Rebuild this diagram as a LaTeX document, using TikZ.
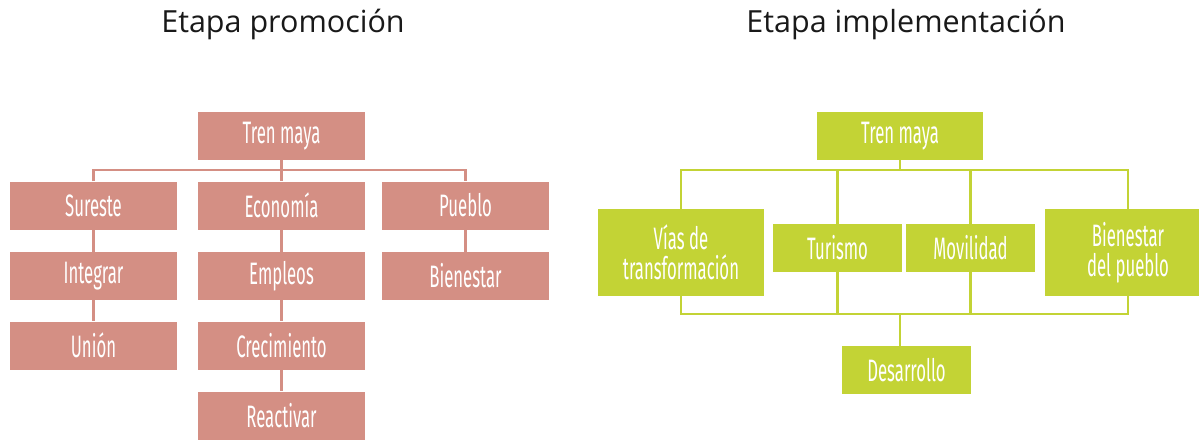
\documentclass[tikz,border=0pt]{standalone}
\usepackage{fontspec}
\setmainfont{Open Sans}
\newfontfamily\boxfont[FakeStretch=0.54]{Fira Sans}
\definecolor{salmon}{RGB}{212,143,132}
\definecolor{lime}{RGB}{195,211,53}
\tikzset{
  basebox/.style={text=white, font=\boxfont\fontsize{31}{30}\selectfont, inner sep=0pt, align=center},
  lbox/.style={basebox, fill=salmon, minimum width=167pt, minimum height=48pt},
  rbox/.style={basebox, fill=lime, minimum height=48pt},
  lline/.style={draw=salmon, line width=2.3pt},
  rline/.style={draw=lime, line width=2.3pt},
  titletext/.style={font=\fontsize{30.5}{34}\selectfont, text=black!90}
}
\begin{document}
\begin{tikzpicture}[x=1pt,y=-1pt]
\useasboundingbox (0,0) rectangle (1199,440);
\clip (0,0) rectangle (1199,440);
% titles
\node[titletext] (t1) at (283,24) {Etapa promoción};
\node[titletext] (t2) at (906,24) {Etapa implementación};
% left tree
\node[lbox] (tl) at (281.5,136) {Tren maya};
\node[lbox] (sur) at (93.5,205.5) {Sureste};
\node[lbox] (eco) at (281.5,205.5) {Economía};
\node[lbox] (pue) at (465.5,205.5) {Pueblo};
\node[lbox] (int) at (93.5,276) {Integrar};
\node[lbox] (emp) at (281.5,276) {Empleos};
\node[lbox] (bie) at (465.5,276) {Bienestar};
\node[lbox] (uni) at (93.5,345.5) {Unión};
\node[lbox] (cre) at (281.5,345.5) {Crecimiento};
\node[lbox] (rea) at (281.5,415.5) {Reactivar};
\draw[lline] (sur.north) -- (sur.north |- 0,170) -- (pue.north |- 0,170) -- (pue.north);
\draw[lline] (tl.south) -- (eco.north);
\draw[lline] (sur.south) -- (int.north);
\draw[lline] (int.south) -- (uni.north);
\draw[lline] (eco.south) -- (emp.north);
\draw[lline] (emp.south) -- (cre.north);
\draw[lline] (cre.south) -- (rea.north);
\draw[lline] (pue.south) -- (bie.north);
% right tree
\node[rbox, minimum width=166pt] (tr) at (900,136) {Tren maya};
\node[rbox, minimum width=166pt, minimum height=87pt] (vias) at (681,252.5) {Vías de\\transformación};
\node[rbox, minimum width=129pt] (tur) at (837.5,248) {Turismo};
\node[rbox, minimum width=129pt] (mov) at (970.5,248) {Movilidad};
\node[rbox, minimum width=166pt, minimum height=87pt] (bp) at (1128,252.5) {Bienestar\\del pueblo};
\node[rbox, minimum width=129pt] (des) at (906.5,370) {Desarrollo};
\draw[rline] (vias.north) -- (vias.north |- 0,170) -- (bp.north |- 0,170) -- (bp.north);
\draw[rline] (tr.south) -- (tr.south |- 0,170);
\draw[rline] (tur.north) -- (tur.north |- 0,170);
\draw[rline] (mov.north) -- (mov.north |- 0,170);
\draw[rline] (vias.south) -- (vias.south |- 0,314) -- (bp.south |- 0,314) -- (bp.south);
\draw[rline] (tur.south) -- (tur.south |- 0,314);
\draw[rline] (mov.south) -- (mov.south |- 0,314);
\draw[rline] (des.north -| tr.south) -- (tr.south |- 0,314);
\end{tikzpicture}
\end{document}
